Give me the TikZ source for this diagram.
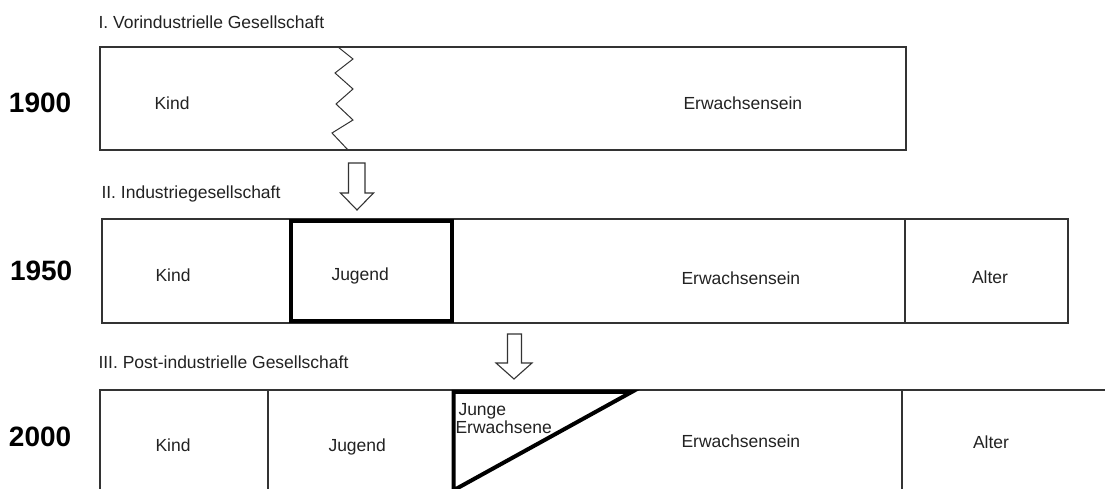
\documentclass[tikz,border=0pt]{standalone}
\usepackage{fontspec}
\setmainfont{Liberation Sans}
\definecolor{ln}{HTML}{333333}
\definecolor{tx}{HTML}{222222}
\begin{document}
\begin{tikzpicture}[x=1pt,y=-1pt,
  lbl/.style={anchor=base west,inner sep=0pt,outer sep=0pt,text=tx,font=\fontsize{17.5}{17.5}\selectfont},
  year/.style={anchor=base west,inner sep=0pt,outer sep=0pt,text=black,font=\fontsize{28}{28}\selectfont\bfseries},
  band/.style={draw=ln,line width=1.4pt},
  thickline/.style={draw=black,line width=4pt},
  hollowarrow/.style={draw=ln,line width=1.1pt,fill=white,line join=miter}]
\useasboundingbox (0,0) rectangle (1105,489);
\fill[white] (0,0) rectangle (1105,489);
\clip (0,0) rectangle (1105,489);

% Row 1
\node[lbl] (t1) at (98.5,29) {I. Vorindustrielle Gesellschaft};
\node[year] (y1) at (9,113) {1900};
\draw[band] (100,47) rectangle (906,150);
\draw[draw=ln,line width=1pt,line join=miter] (338,47) -- (353,59) -- (335,73) -- (353,89) -- (336,104) -- (353,120) -- (332,133) -- (348,150);
\node[lbl] (k1) at (154.5,109.3) {Kind};
\node[lbl] (e1) at (683.5,109.3) {Erwachsensein};

% Arrow 1
\draw[hollowarrow] (348.5,163) -- (365,163) -- (365,193) -- (373.5,193) -- (357,210) -- (340.5,193) -- (348.5,193) -- cycle;

% Row 2
\node[lbl] (t2) at (101.5,198.3) {II. Industriegesellschaft};
\node[year] (y2) at (10,280) {1950};
\draw[band] (102,219) rectangle (1068,323);
\draw[band] (905,219) -- (905,323);
\draw[thickline] (290.5,221) rectangle (452,321);
\node[lbl] (k2) at (155.5,281.5) {Kind};
\node[lbl] (j2) at (331.5,280.5) {Jugend};
\node[lbl] (e2) at (681.5,284.3) {Erwachsensein};
\node[lbl] (a2) at (972,283.3) {Alter};

% Arrow 2
\draw[hollowarrow] (507.5,334) -- (521.5,334) -- (521.5,363) -- (532,363) -- (514,379) -- (496,363) -- (507.5,363) -- cycle;

% Row 3
\node[lbl] (t3) at (98.5,368.3) {III. Post-industrielle Gesellschaft};
\node[year] (y3) at (9,446) {2000};
\draw[band] (1106,390) -- (100,390) -- (100,495);
\draw[band] (268,390) -- (268,495);
\draw[band] (902,390) -- (902,495);
\draw[thickline,line join=miter] (453.5,495) -- (453.5,391.8) -- (632,391.8) -- (445,495);
\node[lbl] (k3) at (155.5,451.7) {Kind};
\node[lbl] (j3) at (328.5,451) {Jugend};
\node[lbl,align=left,anchor=base west] (je) at (458.5,415) {Junge};
\node[lbl] (je2) at (455.5,433.3) {Erwachsene};
\node[lbl] (e3) at (681.5,447.7) {Erwachsensein};
\node[lbl] (a3) at (973,448.3) {Alter};
\end{tikzpicture}
\end{document}
